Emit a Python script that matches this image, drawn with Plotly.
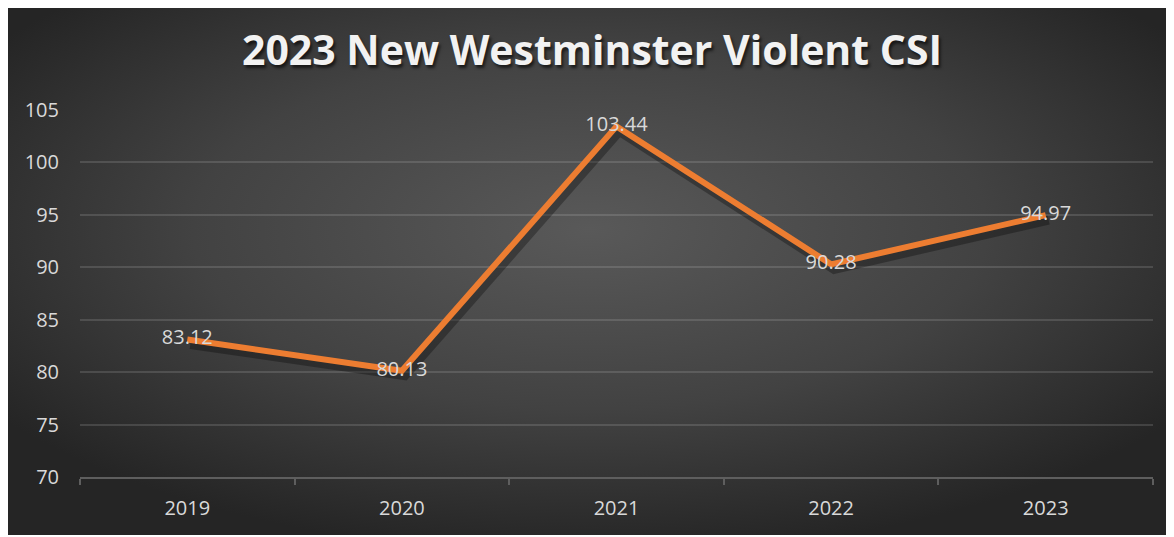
import base64
import plotly.graph_objects as go

years = ["2019", "2020", "2021", "2022", "2023"]
violent_csi = [83.12, 80.13, 103.44, 90.28, 94.97]
value_labels = ["83.12", "80.13", "103.44", "90.28", "94.97"]
y_ticks = [70, 75, 80, 85, 90, 95, 100, 105]

# page adds an 8px body margin, so the figure is sized to fit the window
W, H = 1166, 529
L, R, T, B = 72, 21, 102, 60
pw, ph = W - L - R, H - T - B

BW, BH = 1164, 527
svg = (
    f'<svg xmlns="http://www.w3.org/2000/svg" width="{BW}" height="{BH}" preserveAspectRatio="none">'
    '<defs><radialGradient id="g" cx="50%" cy="42%" r="62%">'
    '<stop offset="0" stop-color="#595959"/>'
    '<stop offset="0.55" stop-color="#424242"/>'
    '<stop offset="1" stop-color="#252525"/>'
    '</radialGradient></defs>'
    f'<rect width="{BW}" height="{BH}" fill="url(#g)"/></svg>'
)
bg_uri = "data:image/svg+xml;base64," + base64.b64encode(svg.encode()).decode()

fig = go.Figure()

# soft shadow under the line (drawn on slightly shifted base axes)
fig.add_trace(go.Scatter(
    x=years, y=violent_csi, mode="lines",
    line=dict(color="rgba(0,0,0,0.3)", width=9),
    xaxis="x2", yaxis="y2", hoverinfo="skip", showlegend=False,
))

fig.add_trace(go.Scatter(
    x=years, y=violent_csi, mode="lines+text",
    line=dict(color="#ED7D31", width=6),
    text=value_labels, textposition="middle center",
    textfont=dict(family="Open Sans", size=20, color="#D9D9D9"),
    xaxis="x", yaxis="y", showlegend=False,
))

sx = 3 * 5 / pw
sy = 5 * 35 / ph

fig.update_layout(
    width=W, height=H,
    margin=dict(l=L, r=R, t=T, b=B),
    paper_bgcolor="white",
    plot_bgcolor="rgba(0,0,0,0)",
    title=dict(
        text="2023 New Westminster Violent CSI",
        x=584 / W, xref="container", xanchor="center",
        y=1 - 43 / H, yref="container", yanchor="middle",
        font=dict(family="Open Sans", size=41, color="#F2F2F2", weight="bold",
                  shadow="2px 3px 3px rgba(0,0,0,0.6)"),
    ),
    xaxis2=dict(type="category", range=[-0.5 - sx, 4.5 - sx],
                categoryorder="array", categoryarray=years,
                visible=False, anchor="y2"),
    yaxis2=dict(range=[70 + sy, 105 + sy], visible=False, anchor="x2"),
    xaxis=dict(
        type="category", range=[-0.5, 4.5], overlaying="x2", anchor="y",
        categoryorder="array", categoryarray=years,
        showgrid=False, zeroline=False,
        showline=True, linecolor="#5e5e5e", linewidth=1.5,
        ticks="outside", tickson="boundaries", ticklen=6, tickcolor="#5e5e5e", tickwidth=1.5,
        ticklabelstandoff=12,
        tickfont=dict(family="Open Sans", size=20, color="#D9D9D9"),
    ),
    yaxis=dict(
        range=[70, 105], tickvals=y_ticks, overlaying="y2", anchor="x",
        showgrid=True, gridcolor="rgba(217,217,217,0.16)", gridwidth=1.5,
        zeroline=False, showline=False, ticks="",
        ticklabelstandoff=20,
        tickfont=dict(family="Open Sans", size=20, color="#D9D9D9"),
    ),
    images=[dict(
        source=bg_uri, xref="paper", yref="paper",
        x=-L / pw, y=1 + T / ph,
        sizex=BW / pw, sizey=BH / ph,
        xanchor="left", yanchor="top", sizing="stretch", layer="below",
    )],
)

fig.write_html("out.html")
